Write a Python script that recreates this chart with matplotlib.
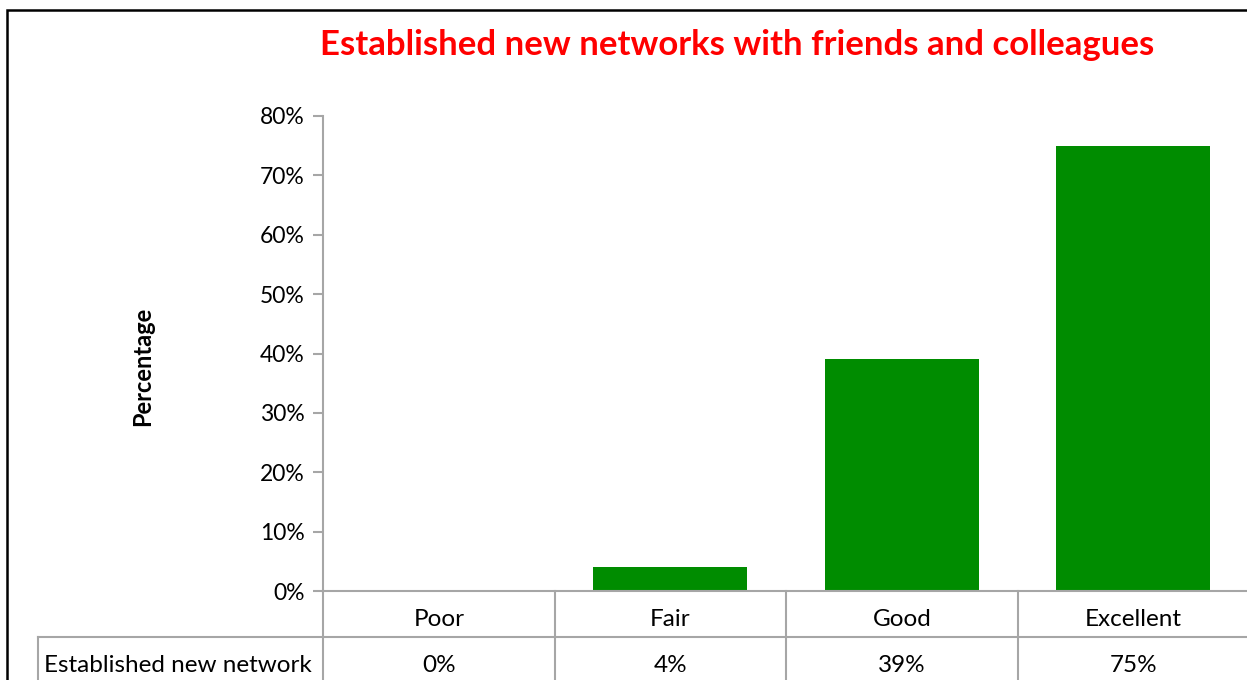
import matplotlib
matplotlib.use('Agg')
import matplotlib.pyplot as plt
from matplotlib.patches import Rectangle
import matplotlib.transforms as mtransforms

categories = ['Poor', 'Fair', 'Good', 'Excellent']
values = [0, 4, 39, 75]
series_name = 'Established new network'
yticks = [0, 10, 20, 30, 40, 50, 60, 70, 80]
title = 'Established new networks with friends and colleagues'

plt.rcParams['font.family'] = ['Lato', 'DejaVu Sans']

W, H = 1247, 680
fig = plt.figure(figsize=(W / 100, H / 100), dpi=100)

# axes box in pixels
x0, x1 = 323, 1249
y_top, y_bot = 116, 591
ax = fig.add_axes([x0 / W, (H - y_bot) / H, (x1 - x0) / W, (y_bot - y_top) / H])

grey = '#a6a6a6'
ax.bar(range(len(categories)), values, width=0.665, color='#008c00')
ax.set_xlim(-0.5, len(categories) - 0.5)
ax.set_ylim(0, 80)
ax.set_yticks(yticks)
ax.set_yticklabels([f'{v}%' for v in yticks], fontsize=16.5)
ax.set_xticks([])
for s in ['top', 'right']:
    ax.spines[s].set_visible(False)
for s in ['left', 'bottom']:
    ax.spines[s].set_color(grey)
    ax.spines[s].set_linewidth(1.5)
ax.tick_params(axis='y', length=7, width=1.5, color=grey, pad=6)

ax_px = x1 - x0
ax_h = y_bot - y_top
# y label placed like the original (a bit below the middle)
ax.text((143 - x0) / ax_px, (y_bot - 366) / ax_h, 'Percentage', transform=ax.transAxes,
        rotation=90, ha='center', va='center', fontsize=17, fontweight='bold')

# data table under the axis
row1 = (y_bot - 637) / ax_h
row2 = (y_bot - 700) / ax_h
lab_left = (38 - x0) / ax_px
tr = mtransforms.blended_transform_factory(ax.transData, ax.transAxes)
for i in range(len(categories) + 1):
    ax.plot([i - 0.5, i - 0.5], [0, row2], transform=tr, color=grey, lw=1.5, clip_on=False)
ax.plot([lab_left, 1.05], [row1, row1], transform=ax.transAxes, color=grey, lw=1.5, clip_on=False)
ax.plot([lab_left, lab_left], [row1, row2], transform=ax.transAxes, color=grey, lw=1.5, clip_on=False)
off = -6 / ax_h
for i, (c, v) in enumerate(zip(categories, values)):
    ax.text(i, row1 / 2 + off, c, transform=tr, ha='center', va='center', fontsize=17.5)
    ax.text(i, row1 * 1.5 + off, f'{v}%', transform=tr, ha='center', va='center', fontsize=17.5)
ax.text(lab_left + 0.007, row1 * 1.5 + off, series_name, transform=ax.transAxes,
        ha='left', va='center', fontsize=17.5)

fig.text(737 / W, 1 - 45 / H, title, color='#ff0000', fontsize=25, fontweight='bold',
         ha='center', va='center')

# outer chart frame
fig.patches.append(Rectangle((7 / W, -0.1), 1.2, 1 - 10 / H + 0.1, transform=fig.transFigure,
                             fill=False, edgecolor='black', lw=1.8))

fig.savefig('out.png', dpi=100)
